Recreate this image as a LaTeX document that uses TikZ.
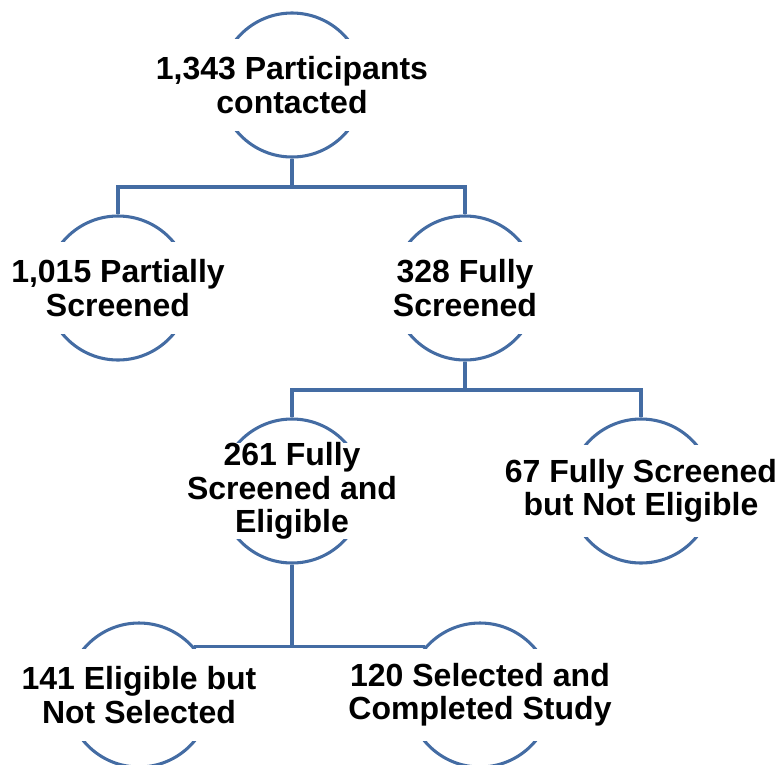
\documentclass[tikz,border=0pt]{standalone}
\usepackage{fontspec}
\setmainfont{Liberation Sans}
\usepackage{tikz}
\usetikzlibrary{positioning}
\definecolor{linkblue}{RGB}{68,108,163}

\begin{document}
\begin{tikzpicture}[x=0.75pt, y=-0.75pt, line width=2.3pt]
    \tikzstyle{ring} = [draw=linkblue, circle, minimum size=108pt, inner sep=0pt]
    \tikzstyle{band} = [fill=white, text centered, align=center, inner sep=0pt, minimum width=114pt, minimum height=69pt, font=\bfseries\fontsize{24}{25}\selectfont]
    \tikzstyle{connector} = [draw=linkblue, line width=2.3pt]
    \useasboundingbox (0,0) rectangle (778,764);
    % circles first, the text bands hide their sides
    \node [ring] at (292,85) (contacted) {};
    \node [ring] at (118,288) (partial) {};
    \node [ring] at (465,288) (full) {};
    \node [ring] at (292,491) (eligible) {};
    \node [ring] at (641,491) (noteligible) {};
    \node [ring] at (139,695) (notselected) {};
    \node [ring] at (480,695) (completed) {};
    \node [band] at (contacted) {1,343 Participants\\contacted};
    \node [band] at (partial) {1,015 Partially\\Screened};
    \node [band] at (full) {328 Fully\\Screened};
    \node [band] at (eligible) {261 Fully\\Screened and\\Eligible};
    \node [band] at (noteligible) {67 Fully Screened\\but Not Eligible};
    \node [band] at (notselected) {141 Eligible but\\Not Selected};
    \node [band] at (completed) {120 Selected and\\Completed Study};
    \coordinate (fork1) at (292,187);
    \coordinate (fork2) at (465,390);
    \draw[connector] (contacted.south) -- (fork1);
    \draw[connector] (partial.north) |- (fork1) -| (full.north);
    \draw[connector] (full.south) -- (fork2);
    \draw[connector] (eligible.north) |- (fork2) -| (noteligible.north);
    \draw[connector] (eligible.south) -- (eligible.south |- notselected.41);
    \draw[connector] (notselected.41) -- (completed.139);
\end{tikzpicture}
\end{document}
